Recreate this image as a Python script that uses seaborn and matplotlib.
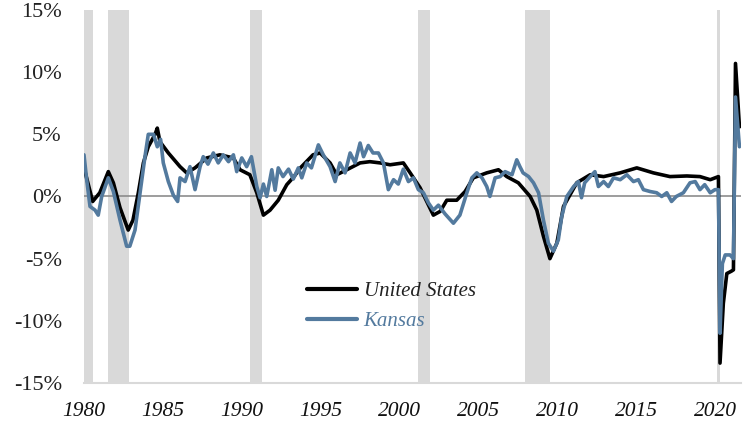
import numpy as np
import pandas as pd
import matplotlib
matplotlib.use("Agg")
import matplotlib.pyplot as plt
import seaborn as sns

# Year-over-year employment growth (%)
us_years = [1980.0, 1980.55, 1981.0, 1981.54, 1981.86, 1982.28, 1982.8, 1983.1, 1983.44,
            1983.76, 1984.07, 1984.5, 1984.64, 1984.81, 1985.34, 1986.08, 1986.5, 1987.03,
            1987.77, 1988.6, 1989.46, 1989.88, 1990.5, 1990.94, 1991.36, 1991.78, 1992.3,
            1992.84, 1993.3, 1993.7, 1994.5, 1994.95, 1995.58, 1996.0, 1996.64, 1997.48,
            1998.1, 1998.75, 1999.38, 2000.22, 2000.65, 2001.28, 2001.7, 2002.12, 2002.55,
            2002.97, 2003.6, 2004.13, 2004.65, 2005.5, 2006.24, 2006.77, 2007.5, 2008.25,
            2008.67, 2009.09, 2009.5, 2009.94, 2010.36, 2011.2, 2012.05, 2012.9, 2013.95,
            2015.0, 2016.05, 2017.1, 2018.17, 2019.0, 2019.65, 2020.17, 2020.27, 2020.48,
            2020.7, 2021.0, 2021.12, 2021.25, 2021.5]
us_vals = [2.3, -0.4, 0.3, 2.0, 1.1, -0.9, -2.7, -1.9, 0.3,
           2.7, 4.0, 5.0, 5.5, 4.4, 3.5, 2.4, 1.9, 2.3,
           3.1, 3.35, 3.1, 2.15, 1.75, 0.3, -1.5, -1.1, -0.3,
           0.95, 1.6, 2.3, 3.35, 3.5, 2.7, 1.75, 2.15, 2.7,
           2.8, 2.7, 2.55, 2.7, 1.9, 0.7, -0.4, -1.5, -1.2,
           -0.3, -0.3, 0.4, 1.5, 1.9, 2.15, 1.6, 1.1, 0.0,
           -1.1, -3.2, -5.0, -3.75, -0.8, 1.1, 1.75, 1.6, 1.9,
           2.3, 1.9, 1.6, 1.65, 1.6, 1.35, 1.6, -13.4, -8.6,
           -6.2, -6.0, -5.9, 10.7, 5.6]

ks_years = [1980.0, 1980.17, 1980.38, 1980.7, 1980.9, 1981.12, 1981.54, 1981.86, 1982.28,
            1982.7, 1982.9, 1983.23, 1983.55, 1983.86, 1984.07, 1984.4, 1984.64, 1984.85,
            1985.02, 1985.34, 1985.66, 1985.93, 1986.08, 1986.4, 1986.71, 1987.03, 1987.35,
            1987.55, 1987.85, 1988.19, 1988.5, 1988.82, 1989.15, 1989.46, 1989.67, 1989.99,
            1990.3, 1990.6, 1990.94, 1991.15, 1991.36, 1991.57, 1991.89, 1992.1, 1992.3,
            1992.6, 1992.95, 1993.25, 1993.57, 1993.79, 1994.1, 1994.4, 1994.84, 1995.15,
            1995.58, 1995.9, 1996.2, 1996.53, 1996.85, 1997.16, 1997.48, 1997.7, 1998.0,
            1998.3, 1998.64, 1998.96, 1999.27, 1999.6, 1999.9, 2000.22, 2000.54, 2000.86,
            2001.17, 2001.49, 2001.8, 2002.12, 2002.44, 2002.86, 2003.39, 2003.8, 2004.24,
            2004.56, 2004.87, 2005.2, 2005.5, 2005.7, 2006.03, 2006.35, 2006.66, 2007.1,
            2007.4, 2007.6, 2007.8, 2008.15, 2008.46, 2008.78, 2009.09, 2009.4, 2009.72,
            2010.03, 2010.25, 2010.57, 2011.0, 2011.3, 2011.5, 2011.7, 2012.05, 2012.35,
            2012.57, 2012.9, 2013.2, 2013.53, 2013.95, 2014.37, 2014.79, 2015.1, 2015.42,
            2015.84, 2016.26, 2016.58, 2016.9, 2017.2, 2017.5, 2017.95, 2018.37, 2018.7,
            2019.0, 2019.3, 2019.65, 2019.95, 2020.17, 2020.27, 2020.42, 2020.6, 2020.9,
            2021.12, 2021.25, 2021.5]
ks_vals = [3.35, 1.35, -0.8, -1.1, -1.5, 0.0, 1.5, 0.4, -1.9,
           -4.0, -4.0, -2.7, 0.3, 3.2, 5.0, 5.0, 4.0, 4.6,
           2.7, 1.2, 0.1, -0.4, 1.5, 1.2, 2.4, 0.55, 2.4,
           3.2, 2.6, 3.5, 2.7, 3.35, 2.8, 3.35, 2.0, 3.1,
           2.4, 3.2, 0.8, -0.1, 1.0, 0.0, 2.15, 0.5, 2.3,
           1.6, 2.2, 1.4, 2.3, 1.5, 2.7, 2.3, 4.15, 3.35,
           2.4, 1.2, 2.7, 1.9, 3.5, 2.7, 4.3, 3.2, 4.1,
           3.5, 3.5, 2.7, 0.55, 1.35, 1.0, 2.2, 1.2, 1.5,
           0.55, 0.3, -0.5, -1.1, -0.7, -1.4, -2.15, -1.5, 0.3,
           1.5, 1.9, 1.5, 0.8, 0.0, 1.5, 1.6, 2.0, 1.75,
           2.95, 2.4, 1.9, 1.6, 1.1, 0.3, -1.9, -3.75, -4.4,
           -3.5, -1.6, 0.0, 0.8, 1.2, -0.1, 1.1, 1.6, 2.0,
           0.8, 1.2, 0.8, 1.5, 1.35, 1.75, 1.2, 1.35, 0.55,
           0.4, 0.3, 0.0, 0.3, -0.4, 0.0, 0.3, 1.1, 1.2,
           0.55, 0.95, 0.3, 0.55, 0.55, -11.0, -5.4, -4.7, -4.7,
           -5.0, 8.0, 4.0]

rec_start = [1980.0, 1981.5, 1990.5, 2001.17, 2007.92, 2020.08]
rec_end = [1980.55, 1982.87, 1991.25, 2001.88, 2009.5, 2020.3]

ytick_vals = [-15, -10, -5, 0, 5, 10, 15]
ytick_labels = ["-15%", "-10%", "-5%", "0%", "5%", "10%", "15%"]
xtick_vals = [1980, 1985, 1990, 1995, 2000, 2005, 2010, 2015, 2020]

us = pd.DataFrame({"year": us_years, "pct": us_vals})
ks = pd.DataFrame({"year": ks_years, "pct": ks_vals})

sns.set_style("white")
plt.rcParams["font.family"] = ["Liberation Serif", "DejaVu Serif"]

us_color = "black"
ks_color = "#537a9e"

fig = plt.figure(figsize=(7.46, 4.23), dpi=100)
ax = fig.add_axes([0.1126, 0.0946, 0.8803, 0.8818])

# recession shading
for s, e in zip(rec_start, rec_end):
    ax.axvspan(s, e, color="#d9d9d9", lw=0, zorder=0)

ax.axhline(0, color="#8c8c8c", lw=1.2, zorder=1)

sns.lineplot(data=us, x="year", y="pct", ax=ax, color=us_color, lw=2.6,
             label="United States", zorder=3)
sns.lineplot(data=ks, x="year", y="pct", ax=ax, color=ks_color, lw=2.6,
             label="Kansas", zorder=4)

ax.set_xlim(1980.0, 2021.58)
ax.set_ylim(-15, 15)
ax.set_yticks(ytick_vals)
ax.set_yticklabels(ytick_labels)
ax.set_xticks(xtick_vals)
ax.set_xticklabels([str(v) for v in xtick_vals], fontstyle="italic")
ax.set_xlabel("")
ax.set_ylabel("")
ax.tick_params(axis="y", length=0, pad=16, labelsize=16, colors="#222222")
ax.tick_params(axis="x", length=0, pad=14, labelsize=15.5, colors="#111111")

for side in ["top", "right", "left"]:
    ax.spines[side].set_visible(False)
ax.spines["bottom"].set_color("#d9d9d9")
ax.spines["bottom"].set_linewidth(1.5)

leg = ax.legend(loc="upper left", bbox_to_anchor=(0.34, 0.272), frameon=False,
                prop={"family": "Liberation Serif", "style": "italic", "size": 15},
                handlelength=2.4, handletextpad=0.3, labelspacing=0.5,
                borderpad=0, borderaxespad=0)
leg.get_texts()[0].set_color("#222222")
leg.get_texts()[1].set_color(ks_color)
for line in leg.get_lines():
    line.set_linewidth(3)

fig.savefig("out.png", dpi=100)
